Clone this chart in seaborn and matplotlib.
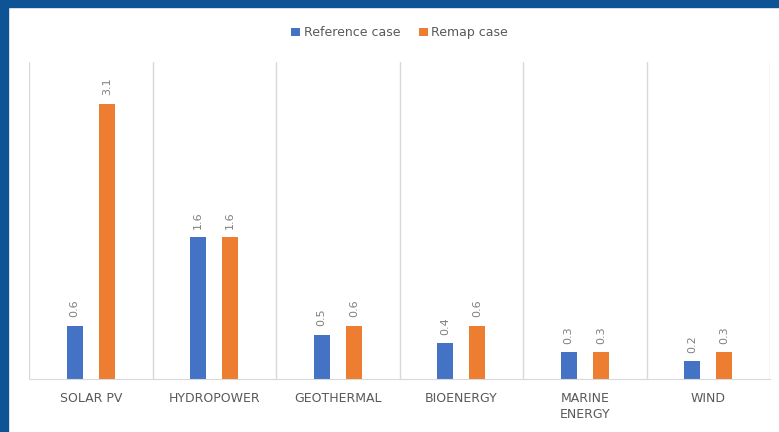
import numpy as np
import pandas as pd
import matplotlib.pyplot as plt
import seaborn as sns
from matplotlib.patches import Rectangle

categories = ['SOLAR PV', 'HYDROPOWER', 'GEOTHERMAL', 'BIOENERGY', 'MARINE\nENERGY', 'WIND']
reference_case = [0.6, 1.6, 0.5, 0.4, 0.3, 0.2]
remap_case = [3.1, 1.6, 0.6, 0.6, 0.3, 0.3]
series_names = ['Reference case', 'Remap case']

df = pd.DataFrame({
    'technology': categories * 2,
    'case': [series_names[0]] * len(categories) + [series_names[1]] * len(categories),
    'value': reference_case + remap_case,
})

sns.set_style('white')
fig = plt.figure(figsize=(7.79, 4.32), dpi=100)
ax = fig.add_axes([29 / 779, 53 / 432, 741 / 779, 317 / 432])

sns.barplot(data=df, x='technology', y='value', hue='case',
            palette=['#4472C4', '#ED7D31'], width=0.52, gap=0.5,
            saturation=1, linewidth=0, ax=ax, legend=True)

for cont in ax.containers:
    ax.bar_label(cont, fmt='%.1f', rotation=90, padding=6,
                 fontsize=8, color='#7f7f7f')

ax.set_xlim(-0.5, len(categories) - 0.5)
ax.set_ylim(0, 3.57)
ax.set_yticks([])
ax.set_xlabel('')
ax.set_ylabel('')
ax.set_xticks(np.arange(-0.5, len(categories)), minor=True)
ax.grid(which='minor', axis='x', color='#d9d9d9', linewidth=1)
ax.tick_params(axis='x', which='both', length=0, pad=9,
               labelsize=9, labelcolor='#595959')
for lbl in ax.get_xticklabels():
    lbl.set_linespacing(1.35)
for s in ['top', 'right', 'left']:
    ax.spines[s].set_visible(False)
ax.spines['bottom'].set_color('#d9d9d9')

handles, labels = ax.get_legend_handles_labels()
ax.get_legend().remove()
fig.legend(handles, labels, loc='center', bbox_to_anchor=(0.513, 0.924),
           ncol=2, frameon=False, fontsize=9, handlelength=0.7,
           handleheight=0.7, handletextpad=0.3, columnspacing=1.5,
           labelcolor='#595959')

# dark blue frame on top and left edges
fig.patches.append(Rectangle((0, 1 - 7 / 432), 1, 7 / 432, transform=fig.transFigure,
                             color='#0E5494', zorder=10))
fig.patches.append(Rectangle((0, 0), 8 / 779, 1, transform=fig.transFigure,
                             color='#0E5494', zorder=10))

plt.savefig('out.png', dpi=100)
